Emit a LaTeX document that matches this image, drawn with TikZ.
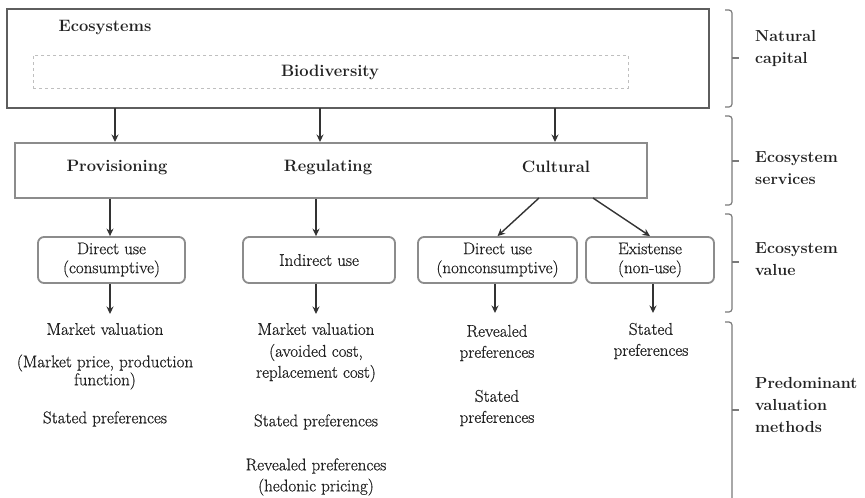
\documentclass[tikz,border=0pt]{standalone}
\usepackage{fontspec}
\setmainfont{Latin Modern Roman}
\newfontfamily\thickrm{Latin Modern Roman}[FakeBold=0.6]
\usetikzlibrary{arrows.meta}
\definecolor{boxdark}{HTML}{5E5E5E}
\definecolor{boxmid}{HTML}{8C8C8C}
\definecolor{arrowc}{HTML}{333333}
\definecolor{txtc}{HTML}{222222}
\definecolor{bracec}{HTML}{7A7A7A}
\begin{document}
\begin{tikzpicture}[x=1pt,y=-1pt,
  lbl/.style={text=txtc,font=\fontsize{16.5}{21}\selectfont\bfseries,inner sep=0pt},
  rlbl/.style={text=txtc,font=\fontsize{16}{22}\selectfont\bfseries,align=left,anchor=west,inner sep=0pt},
  meth/.style={text=txtc,font=\thickrm\fontsize{17}{21}\selectfont,align=center,inner sep=0pt},
  valbox/.style={draw=boxmid,line width=1.8pt,rounded corners=6pt,minimum height=46pt,text=txtc,
    font=\thickrm\fontsize{17}{19}\selectfont,align=center,inner sep=0pt},
  arr/.style={draw=arrowc,line width=1.4pt,-{Stealth[length=7.5pt,width=7pt]}},
  brace/.style={draw=bracec,line width=1.2pt,rounded corners=3pt}]
\useasboundingbox (0,0) rectangle (865,498);
\fill[white] (0,0) rectangle (865,498);
% natural capital
\node[draw=boxdark,line width=2pt,minimum width=702pt,minimum height=99pt,inner sep=0pt] (eco) at (358,58.5) {};
\node[draw=black!25,dashed,line width=0.5pt,minimum width=595pt,minimum height=33pt,inner sep=0pt] (bio) at (330.5,71.5) {};
\node[lbl] (ecot) at (105,28) {Ecosystems};
\node[lbl] (biot) at (330,72) {Biodiversity};
% services
\node[draw=boxmid,line width=1.6pt,minimum width=632pt,minimum height=55pt,inner sep=0pt] (serv) at (331,170.5) {};
\node[lbl] (prov) at (117,167) {Provisioning};
\node[lbl] (regu) at (328,167) {Regulating};
\node[lbl] (cult) at (556,167) {Cultural};
% value boxes
\node[valbox,minimum width=147pt] (v1) at (111.5,260) {Direct use\\(consumptive)};
\node[valbox,minimum width=152pt] (v2) at (319,260) {Indirect use};
\node[valbox,minimum width=159pt] (v3) at (497.5,260) {Direct use\\(nonconsumptive)};
\node[valbox,minimum width=128pt] (v4) at (650,260) {Existense\\(non-use)};
% methods
\node[meth] (m1a) at (105,329) {Market valuation};
\node[meth] (m1b) at (105,372) {(Market price, production\\[-3pt]function)};
\node[meth] (m1c) at (105,419) {Stated preferences};
\node[meth] (m2a) at (316,329) {Market valuation};
\node[meth] (m2b) at (316,363) {(avoided cost,\\replacement cost)};
\node[meth] (m2c) at (316,422) {Stated preferences};
\node[meth] (m2d) at (316,477) {Revealed preferences\\(hedonic pricing)};
\node[meth] (m3a) at (497,343) {Revealed\\preferences};
\node[meth] (m3b) at (497,408) {Stated\\preferences};
\node[meth] (m4a) at (651,341) {Stated\\preferences};
% right labels
\node[rlbl] (rl1) at (755,48) {Natural\\capital};
\node[rlbl] (rl2) at (755,168) {Ecosystem\\services};
\node[rlbl] (rl3) at (755,259) {Ecosystem\\value};
\node[rlbl] (rl4) at (755,405) {Predominant\\valuation\\methods};
% arrow coordinates
\coordinate (a1) at (115,108);
\coordinate (a2) at (320,108);
\coordinate (a3) at (555,108);
\coordinate (b1) at (115,142);
\coordinate (b2) at (320,142);
\coordinate (b3) at (555,142);
\coordinate (c1) at (539,198);
\coordinate (c2) at (593,198);
\coordinate (d1) at (110,314);
\coordinate (d2) at (316,314);
\coordinate (d3) at (495,313);
\coordinate (d4) at (653,313);
\draw[arr] (a1) -- (b1);
\draw[arr] (a2) -- (b2);
\draw[arr] (a3) -- (b3);
\draw[arr] (serv.south -| v1.north) ++(-1.5,0) -- ([xshift=-1.5pt]v1.north);
\draw[arr] (serv.south -| v2.north) ++(-3,0) -- ([xshift=-3pt]v2.north);
\draw[arr] (c1) -- (v3.north);
\draw[arr] (c2) -- (v4.north);
\draw[arr] (v1.south -| d1) -- (d1);
\draw[arr] (v2.south -| d2) -- (d2);
\draw[arr] (v3.south -| d3) -- (d3);
\draw[arr] (v4.south -| d4) -- (d4);
% brackets
\draw[brace] (725,10) -- (732,10) -- (732,107) -- (725,107);
\draw[draw=bracec,line width=1.2pt] (732,58) -- (739,58);
\draw[brace] (725,116) -- (732,116) -- (732,205) -- (725,205);
\draw[draw=bracec,line width=1.2pt] (732,161) -- (739,161);
\draw[brace] (725,214) -- (732,214) -- (732,312) -- (725,312);
\draw[draw=bracec,line width=1.2pt] (732,262) -- (739,262);
\draw[brace] (725,322) -- (732,322) -- (732,499);
\draw[draw=bracec,line width=1.2pt] (732,410) -- (739,410);
\end{tikzpicture}
\end{document}
